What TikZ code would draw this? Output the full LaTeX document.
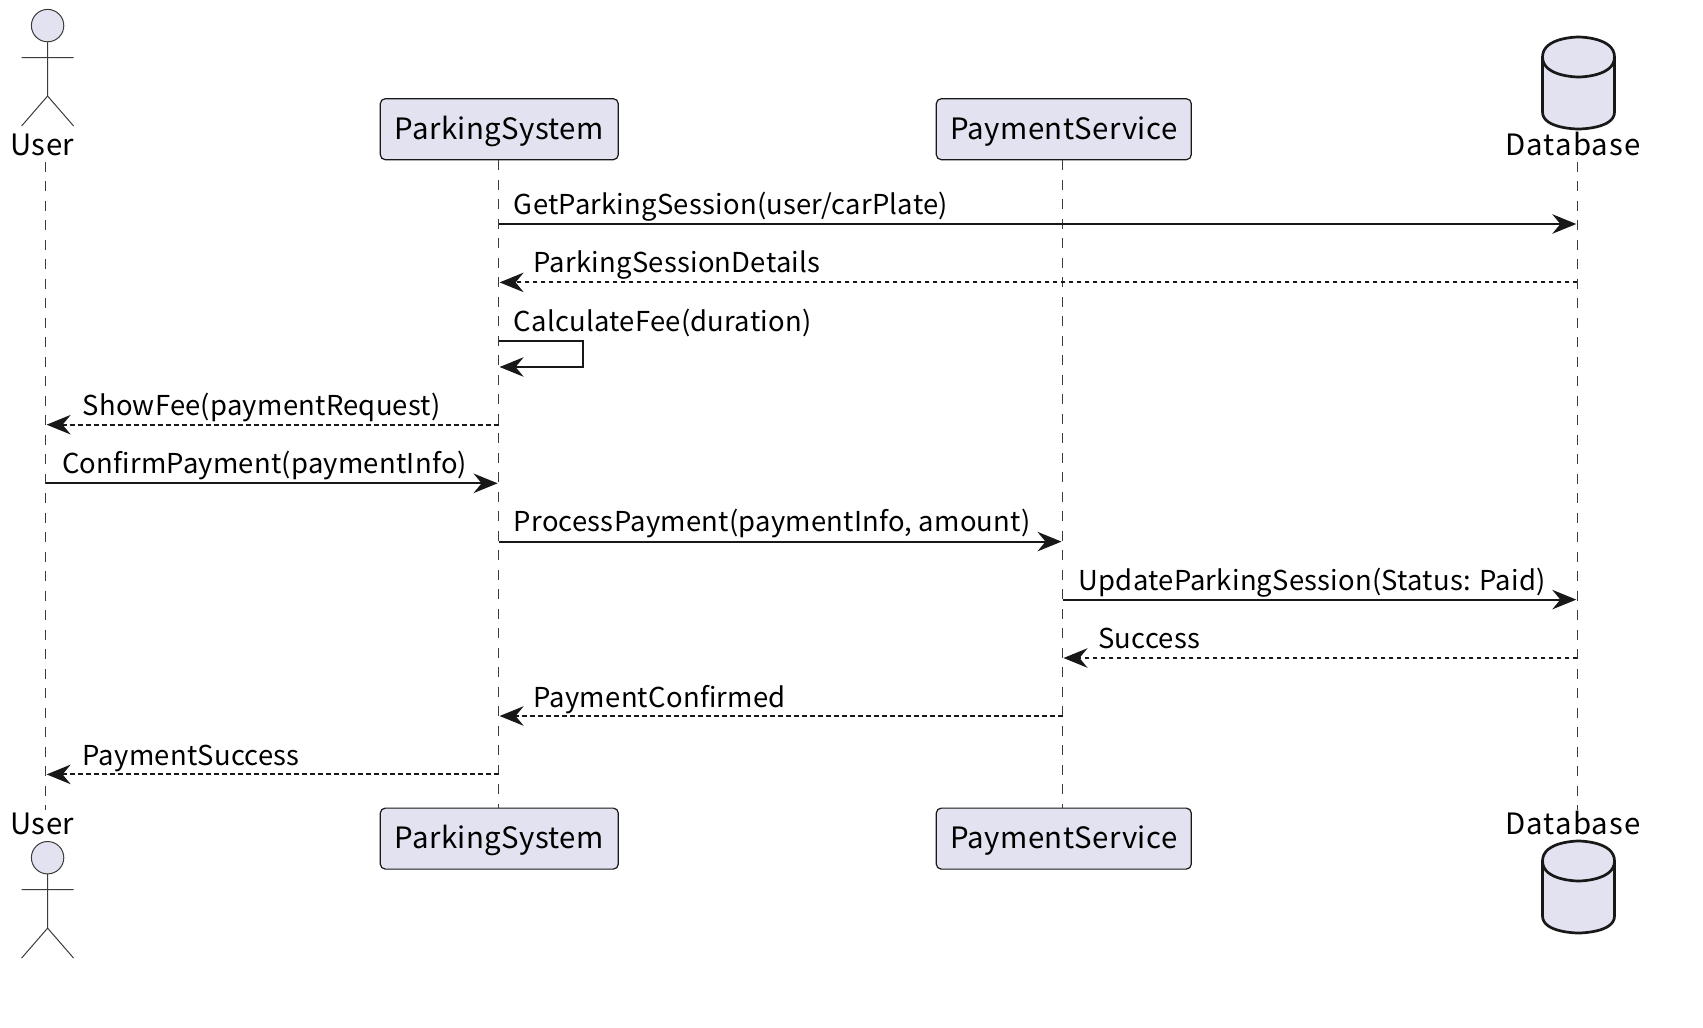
\documentclass[tikz,border=0pt]{standalone}
\usepackage{fontspec}
\setmainfont{Noto Sans CJK SC}
\usetikzlibrary{arrows.meta}
\definecolor{ink}{HTML}{181818}
\definecolor{pfill}{HTML}{E2E2F0}
\tikzset{
  x=1pt,y=-1pt,
  lifeline/.style={draw=ink!85,line width=1.1pt,dash pattern=on 10pt off 9.5pt},
  msg/.style={draw=ink,line width=2pt,-{Stealth[length=24pt,width=19.5pt,inset=8pt,fill=ink]},shorten >=1pt},
  reply/.style={msg,dash pattern=on 4.5pt off 3.5pt},
  lbl/.style={anchor=base west,inner sep=0pt,font=\fontsize{27.4}{30}\selectfont\addfontfeature{LetterSpace=0.9},text=black},
  partbox/.style={draw=ink,fill=pfill,line width=1.2pt,rounded corners=5pt,anchor=base,inner xsep=0pt,inner ysep=0pt,text height=40.6pt,text depth=20.4pt,font=\fontsize{29.4}{32}\selectfont\addfontfeature{LetterSpace=1.4},text=black},
  partlbl/.style={anchor=base,inner sep=0pt,font=\fontsize{29.4}{32}\selectfont,text=black},
  actorline/.style={draw=ink!85,line width=1pt},
  dbline/.style={draw=ink,fill=pfill,line width=2.7pt}
}
\newcommand{\stickman}[2]{%
  \begin{scope}[shift={(#1,#2)}]
    \draw[actorline,fill=pfill] (0,0) circle[radius=16.2];
    \draw[actorline] (0,16.2) -- (0,70.4) (-26,32) -- (26,32) (-26,100.4) -- (0,70.4) -- (26,100.4);
  \end{scope}}
\newcommand{\dbshape}[2]{%
  \begin{scope}[shift={(#1,#2)}]
    \draw[dbline] (-36,20) .. controls (-36,0) and (0,0) .. (0,0) .. controls (0,0) and (36,0) .. (36,20)
      -- (36,75) .. controls (36,92) and (0,92) .. (0,92) .. controls (0,92) and (-36,92) .. (-36,75) -- cycle;
    \draw[dbline,fill=none] (-36,20) .. controls (-36,40) and (0,40) .. (0,40) .. controls (0,40) and (36,40) .. (36,20);
  \end{scope}}
\begin{document}
\begin{tikzpicture}
\useasboundingbox (0,0) rectangle (1703,1028);
% lifeline x positions
\coordinate (Ux) at (45.6,0);
\coordinate (Px) at (498.6,0);
\coordinate (Sx) at (1062.5,0);
\coordinate (Dx) at (1577.3,0);
% participants
\stickman{47.6}{25.6}
\stickman{47.6}{857.7}
\dbshape{1578.5}{37}
\dbshape{1578.5}{841}
\node[partlbl] (Utop) at (42.4,155.3) {\addfontfeature{LetterSpace=1.5}User};
\node[partlbl] (Ubot) at (42.4,834.3) {\addfontfeature{LetterSpace=1.5}User};
\node[partlbl] (Dtop) at (1573,155.3) {\addfontfeature{LetterSpace=4}Database};
\node[partlbl] (Dbot) at (1573,834.3) {\addfontfeature{LetterSpace=4}Database};
\node[partbox,minimum width=238pt] (Ptop) at (499.3,139.3) {ParkingSystem};
\node[partbox,minimum width=255pt] (Stop) at (1063.8,139.3) {PaymentService};
\node[partbox,minimum width=238pt] (Pbot) at (499.3,848.7) {ParkingSystem};
\node[partbox,minimum width=255pt] (Sbot) at (1063.8,848.7) {PaymentService};
% lifeline ends
\coordinate (Ua) at (45.6,161.7); \coordinate (Ub) at (45.6,810);
\coordinate (Da) at (1577.3,161.7); \coordinate (Db) at (1577.3,810);
\draw[lifeline] (Ua) -- (Ub);
\draw[lifeline] (Ptop.south -| Px) -- (Pbot.north -| Px);
\draw[lifeline] (Stop.south -| Sx) -- (Sbot.north -| Sx);
\draw[lifeline] (Da) -- (Db);
% message rows
\coordinate (m1) at (0,224);
\coordinate (m2) at (0,282.4);
\coordinate (m3a) at (0,341);
\coordinate (m3b) at (0,367);
\coordinate (m3x) at (583.3,0);
\coordinate (m4) at (0,424.7);
\coordinate (m5) at (0,483.3);
\coordinate (m6) at (0,541.6);
\coordinate (m7) at (0,599.6);
\coordinate (m8) at (0,658);
\coordinate (m9) at (0,716);
\coordinate (m10) at (0,774.4);
\draw[msg] (Px |- m1) -- (Dx |- m1);
\draw[reply] (Dx |- m2) -- (Px |- m2);
\draw[msg] (Px |- m3a) -- (m3x |- m3a) -- (m3x |- m3b) -- (Px |- m3b);
\draw[reply] (Px |- m4) -- (Ux |- m4);
\draw[msg] (Ux |- m5) -- (Px |- m5);
\draw[msg] (Px |- m6) -- (Sx |- m6);
\draw[msg] (Sx |- m7) -- (Dx |- m7);
\draw[reply] (Dx |- m8) -- (Sx |- m8);
\draw[reply] (Sx |- m9) -- (Px |- m9);
\draw[reply] (Px |- m10) -- (Ux |- m10);
% labels
\node[lbl] (t1) at (513.7,214.3) {GetParkingSession(user/carPlate)};
\node[lbl] (t2) at (533.3,272.7) {ParkingSessionDetails};
\node[lbl] (t3) at (513.7,331) {CalculateFee(duration)};
\node[lbl] (t4) at (82.5,415) {ShowFee(paymentRequest)};
\node[lbl] (t5) at (61.9,473.6) {ConfirmPayment(paymentInfo)};
\node[lbl] (t6) at (513.7,531.9) {ProcessPayment(paymentInfo, amount)};
\node[lbl] (t7) at (1078.5,590.3) {UpdateParkingSession(Status: Paid)};
\node[lbl] (t8) at (1098,648.6) {Success};
\node[lbl] (t9) at (533.3,707) {PaymentConfirmed};
\node[lbl] (t10) at (82.5,765) {PaymentSuccess};
\end{tikzpicture}
\end{document}
